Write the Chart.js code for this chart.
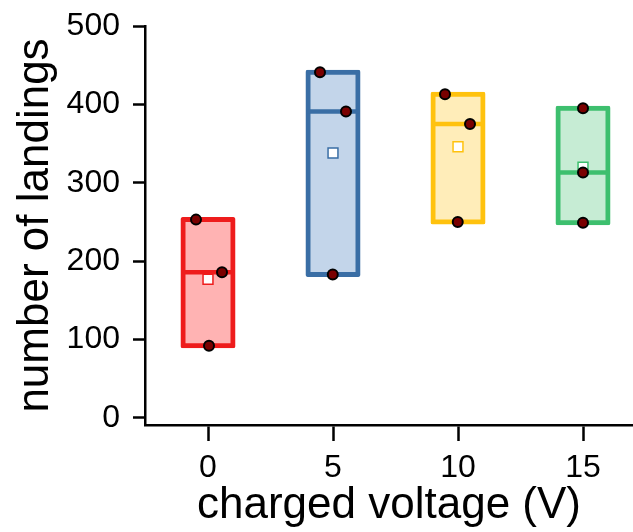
<!DOCTYPE html>
<html>
<head>
<meta charset="utf-8">
<script src="https://cdn.jsdelivr.net/npm/chart.js@4"></script>
<style>
  html, body { margin: 0; padding: 0; background: #fff; }
  #wrap { width: 633px; height: 532px; }
</style>
</head>
<body>
<div id="wrap"><canvas id="chart" width="633" height="532"></canvas></div>
<script>
// valores
const voltages = [0, 5, 10, 15];
const boxMin = [92, 183, 250, 249];
const boxMax = [253, 441, 413, 395];
const medians = [186, 391, 375, 313];
const means = [177, 338, 346, 320];

// pontos individuais (x levemente deslocado como no original)
const pointVoltage = [-0.48, 0.04, 0.56, 4.48, 4.99, 5.52, 9.48, 9.99, 10.48, 15, 15, 15];
const pointLandings = [253, 92, 186, 441, 183, 391, 413, 250, 375, 395, 249, 313];

const xTicks = [0, 5, 10, 15];
const yTicks = [0, 100, 200, 300, 400, 500];

const borderColors = ['#EE1C1C', '#3A6EA5', '#FFC20E', '#3DBF6E'];
const fillColors = ['#FFB3B3', '#C3D5EA', '#FFEDB9', '#C6ECD4'];

const FONT = "'Liberation Sans', Arial, sans-serif";

// zera o padding automático que o Chart.js reserva para os rótulos
function noPadding(scale) {
  scale.paddingLeft = 0;
  scale.paddingRight = 0;
  scale.paddingTop = 0;
  scale.paddingBottom = 0;
}

const ctx = document.getElementById('chart').getContext('2d');
new Chart(ctx, {
  type: 'bar',
  data: {
    datasets: [
      {
        type: 'bar',
        data: voltages.map((v, i) => ({ x: v, y: [boxMin[i], boxMax[i]] })),
        backgroundColor: fillColors,
        borderColor: borderColors,
        borderWidth: 5,
        borderSkipped: false,
        borderRadius: 2,
        inflateAmount: 2.5,
        barThickness: 50,
        order: 4
      },
      {
        type: 'scatter',
        data: voltages.map((v, i) => ({ x: v, y: means[i] })),
        pointStyle: 'rect',
        pointRadius: 7,
        pointBackgroundColor: '#ffffff',
        pointBorderColor: borderColors,
        pointBorderWidth: 1.5,
        order: 3
      },
      {
        type: 'scatter',
        data: voltages.map((v, i) => ({ x: v, y: medians[i] })),
        pointStyle: 'line',
        pointRadius: 26,
        pointBorderColor: borderColors,
        pointBorderWidth: 4.5,
        order: 2
      },
      {
        type: 'scatter',
        data: pointVoltage.map((v, i) => ({ x: v, y: pointLandings[i] })),
        pointStyle: 'circle',
        pointRadius: 5,
        pointBackgroundColor: '#7A0000',
        pointBorderColor: '#000000',
        pointBorderWidth: 2,
        order: 1
      }
    ]
  },
  options: {
    responsive: false,
    animation: false,
    events: [],
    layout: { autoPadding: false, padding: { top: 26, right: 0, left: 0, bottom: 0 } },
    plugins: {
      legend: { display: false },
      tooltip: { enabled: false }
    },
    scales: {
      x: {
        type: 'linear',
        offset: false,
        min: -2.52,
        max: 17,
        afterBuildTicks: scale => { scale.ticks = xTicks.map(v => ({ value: v })); },
        afterFit: scale => { scale.height = 107; noPadding(scale); },
        grid: {
          offset: false,
          drawOnChartArea: false,
          drawTicks: true,
          tickLength: 16,
          tickColor: '#000',
          tickWidth: 2.5
        },
        border: { display: true, color: '#000', width: 2.5 },
        ticks: {
          color: '#000',
          padding: 8,
          maxRotation: 0,
          font: { family: FONT, size: 32 },
          callback: v => String(v)
        },
        title: {
          display: true,
          text: 'charged voltage (V)',
          color: '#000',
          padding: { top: 0, bottom: 0 },
          font: { family: FONT, size: 44, lineHeight: 1.2 }
        }
      },
      y: {
        type: 'linear',
        min: -9,
        max: 500,
        afterBuildTicks: scale => { scale.ticks = yTicks.map(v => ({ value: v })); },
        afterFit: scale => { scale.width = 145; noPadding(scale); },
        grid: {
          drawOnChartArea: false,
          drawTicks: true,
          tickLength: 12,
          tickColor: '#000',
          tickWidth: 2.5
        },
        border: { display: true, color: '#000', width: 2.5 },
        ticks: {
          color: '#000',
          padding: 13,
          font: { family: FONT, size: 32 }
        },
        title: {
          display: true,
          text: 'number of landings',
          color: '#000',
          padding: { top: 9, bottom: 0 },
          font: { family: FONT, size: 44, lineHeight: 1.2 }
        }
      }
    }
  }
});
</script>
</body>
</html>
